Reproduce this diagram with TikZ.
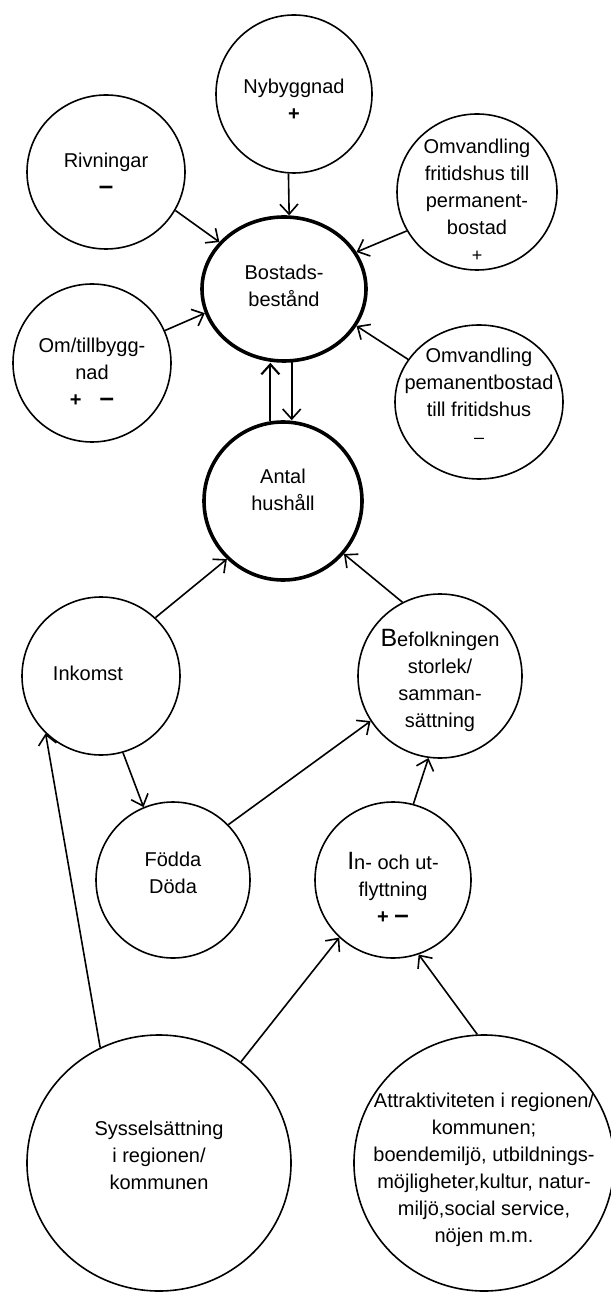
\documentclass[tikz,border=0pt]{standalone}
\usepackage{fontspec}
\setmainfont{Liberation Sans}
\usepackage{tikz}
\usetikzlibrary{arrows.meta,shapes.geometric}
\newcommand{\mns}{{\fontsize{13}{13.5}\selectfont\textbf{–}}}
\newcommand{\pls}{\textbf{+}}
\tikzset{
    factor/.style={
        ellipse,
        draw=black,
        line width=0.8pt,
        inner sep=0pt,
    },
    core/.style={
        factor,
        line width=1.8pt,
    },
    txt/.style={
        align=center,
        font=\fontsize{10}{13.5}\selectfont,
    },
    every edge/.style={
        draw,
        ->,>={Straight Barb[length=5pt,width=9pt]},
        line width=0.8pt
    },
}

\begin{document}
\begin{tikzpicture}[x=0.5pt,y=-0.5pt]
              \useasboundingbox (0,0) rectangle (610,1293);

              \node [factor,minimum width=78pt,minimum height=79pt,label={[txt,yshift=-3pt]center:{Nybyggnad\\\pls}}] (nyb) at (294,94) {};
              \node [factor,minimum width=79pt,minimum height=77pt,label={[txt,yshift=-1pt]center:{Rivningar\\\mns}}] (riv) at (106,172) {};
              \node [factor,minimum width=80pt,minimum height=78pt,label={[txt,yshift=-4pt]center:{Omvandling\\fritidshus till\\permanent-\\bostad\\{\small +}}}] (omv1) at (477,192) {};
              \node [core,minimum width=82pt,minimum height=72pt,label={[txt,yshift=1.5pt]center:{Bostads-\\bestånd}}] (bost) at (284,289) {};
              \node [factor,minimum width=79pt,minimum height=79pt,label={[txt,yshift=-4.5pt]center:{Om/tillbygg-\\nad\\\pls\hspace{9pt}\mns}}] (omtill) at (92,363) {};
              \node [factor,minimum width=84pt,minimum height=77pt,label={[txt,yshift=3pt]center:{Omvandling\\pemanentbostad\\till fritidshus\\{\small –}}}] (omv2) at (479,402) {};
              \node [core,minimum width=79pt,minimum height=79pt,label={[txt,yshift=5.5pt]center:{Antal\\hushåll}}] (antal) at (283,501) {};

              \node [factor,minimum width=79pt,minimum height=79pt,label={[txt,xshift=-6.5pt,yshift=1.5pt]center:{Inkomst}}] (inkomst) at (101,676) {};
              \node [factor,minimum width=82pt,minimum height=82pt,label={[txt,yshift=-2pt]center:{{\fontsize{12.5}{13.5}\selectfont B}efolkningen\\storlek/\\samman-\\sättning}}] (befolk) at (440,676) {};
              \node [factor,minimum width=77pt,minimum height=78pt,label={[txt,yshift=3.5pt]center:{Födda\\Döda}}] (fodda) at (173,880) {};
              \node [factor,minimum width=78pt,minimum height=78pt,label={[txt,yshift=-4pt]center:{{\fontsize{12.5}{13.5}\selectfont I}n- och ut-\\flyttning\\\pls\ \mns}}] (inut) at (393,880) {};

              \node [factor,minimum width=132pt,minimum height=128pt,label={[txt,yshift=4pt]center:{Sysselsättning\\i regionen/\\kommunen}}] (syssel) at (159,1163) {};
              \node [factor,minimum width=130pt,minimum height=128pt,label={[txt,yshift=-3.5pt]center:{Attraktiviteten i regionen/\\kommunen;\\boendemiljö, utbildnings-\\möjligheter,kultur, natur-\\miljö,social service,\\nöjen m.m.}}] (attrak) at (484,1163) {};

              \draw (nyb.-94) edge (bost.86);
              \draw (riv.-29) edge (bost.144);
              \draw (omv1.209) edge (bost.27);
              \draw (omtill.24) edge (bost.197);
              \draw (omv2.149) edge (bost.-27);
              \draw (antal.99) edge[line width=1.05pt] (antal.99 |- bost.south);
              \draw (bost.-84) edge (bost.-84 |- antal.north);
              \draw (inkomst.47) edge (antal.226);
              \draw (befolk.117) edge (antal.-41);
              \draw (inkomst.-74) edge (fodda.112);
              \draw (fodda.45) edge (befolk.213);
              \draw (inut.75) edge (befolk.-98);
              \draw (syssel.117) edge (inkomst.226);
              \draw (syssel.51) edge (inut.227);
              \draw (attrak.93) edge (inut.-71);

            \end{tikzpicture}
\end{document}
